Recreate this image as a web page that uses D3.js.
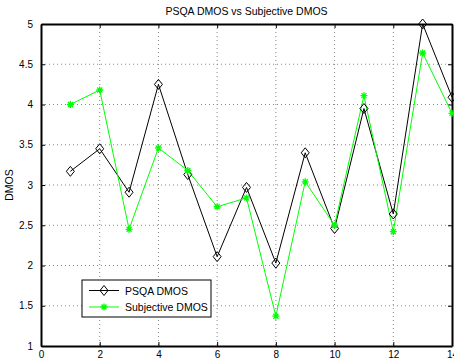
<!DOCTYPE html>
<html>
<head>
<meta charset="utf-8">
<script src="https://cdn.jsdelivr.net/npm/d3@7"></script>
<style>
  body { margin: 0; background: #fff; }
  svg { display: block; font-family: "Liberation Sans", Arial, sans-serif; }
</style>
</head>
<body>
<svg id="chart"></svg>
<script>
// test case index
const samples = [1, 2, 3, 4, 5, 6, 7, 8, 9, 10, 11, 12, 13, 14];
const psqaDmos = [3.17, 3.45, 2.91, 4.25, 3.13, 2.11, 2.97, 2.03, 3.40, 2.46, 3.95, 2.64, 5.0, 4.09];
const subjDmos = [4.0, 4.18, 2.45, 3.46, 3.18, 2.73, 2.84, 1.37, 3.04, 2.50, 4.11, 2.42, 4.64, 3.89];
const xTicks = [0, 2, 4, 6, 8, 10, 12, 14];
const yTicks = [1, 1.5, 2, 2.5, 3, 3.5, 4, 4.5, 5];
const seriesNames = ["PSQA DMOS", "Subjective DMOS"];

const W = 454, H = 362;
const margin = {top: 24, right: 2, bottom: 16, left: 41},
  width = W - margin.left - margin.right,
  height = H - margin.top - margin.bottom;

const svg = d3.select("#chart").attr("width", W).attr("height", H);
const g = svg.append("g").attr("transform", "translate(" + margin.left + "," + margin.top + ")");

const x = d3.scaleLinear().domain([0, 14]).range([0, width]);
const y = d3.scaleLinear().domain([1, 5]).range([height, 0]);

// dotted grid
g.append("g").selectAll("line").data(xTicks.slice(1, -1)).join("line")
  .attr("x1", d => x(d)).attr("x2", d => x(d)).attr("y1", 0).attr("y2", height)
  .attr("stroke", "#888").attr("stroke-width", 1).attr("stroke-dasharray", "1,3");
g.append("g").selectAll("line").data(yTicks.slice(1, -1)).join("line")
  .attr("y1", d => y(d)).attr("y2", d => y(d)).attr("x1", 0).attr("x2", width)
  .attr("stroke", "#888").attr("stroke-width", 1).attr("stroke-dasharray", "1,3");

// axes with inward ticks
g.append("g").attr("transform", "translate(0," + height + ")")
  .call(d3.axisBottom(x).tickValues(xTicks).tickSize(-4).tickPadding(5).tickSizeOuter(0));
g.append("g")
  .call(d3.axisLeft(y).tickValues(yTicks).tickFormat(d3.format("")).tickSize(-4).tickPadding(8).tickSizeOuter(0));
g.append("g").attr("transform", "translate(" + width + ",0)")
  .call(d3.axisRight(y).tickValues(yTicks).tickFormat("").tickSize(-4).tickSizeOuter(0));
g.append("g")
  .call(d3.axisTop(x).tickValues(xTicks).tickFormat("").tickSize(-4).tickSizeOuter(0));
g.selectAll(".domain").attr("stroke", "#000").attr("stroke-width", 2);
g.selectAll(".tick line").attr("stroke", "#000");
g.selectAll(".tick text").attr("font-size", 10).attr("fill", "#000").attr("font-family", "Liberation Sans, Arial, sans-serif");

// lines
const line = d3.line().x((d, i) => x(samples[i])).y(d => y(d));
g.append("path").datum(psqaDmos).attr("d", line).attr("fill", "none").attr("stroke", "#000").attr("stroke-width", 1);
g.append("path").datum(subjDmos).attr("d", line).attr("fill", "none").attr("stroke", "#00ff00").attr("stroke-width", 1);

function diamond(sel) {
  sel.append("path").attr("d", "M0,-5L4,0L0,5L-4,0Z").attr("fill", "none").attr("stroke", "#000").attr("stroke-width", 1);
}
function star(sel) {
  sel.append("path").attr("d", "M-3.5,0H3.5M0,-3.5V3.5M-2.5,-2.5L2.5,2.5M-2.5,2.5L2.5,-2.5")
    .attr("stroke", "#00ff00").attr("stroke-width", 1.3).attr("fill", "none");
}

g.append("g").selectAll("g").data(psqaDmos).join("g")
  .attr("transform", (d, i) => "translate(" + x(samples[i]) + "," + y(d) + ")").call(diamond);
g.append("g").selectAll("g").data(subjDmos).join("g")
  .attr("transform", (d, i) => "translate(" + x(samples[i]) + "," + y(d) + ")").call(star);

// title and label
svg.append("text").attr("x", margin.left + width / 2).attr("y", 15).attr("text-anchor", "middle")
  .attr("font-size", 10.5).text("PSQA DMOS vs Subjective DMOS");
svg.append("text").attr("transform", "translate(13," + (margin.top + height / 2) + ") rotate(-90)")
  .attr("text-anchor", "middle").attr("font-size", 10.5).text("DMOS");

// legend
const leg = svg.append("g").attr("transform", "translate(82,280)");
leg.append("rect").attr("width", 129).attr("height", 37).attr("fill", "#fff").attr("stroke", "#000").attr("stroke-width", 1);
const legColors = ["#000", "#00ff00"];
const legMarks = [diamond, star];
seriesNames.forEach((name, i) => {
  const row = leg.append("g").attr("transform", "translate(0," + (10.5 + i * 16.5) + ")");
  row.append("line").attr("x1", 7).attr("x2", 37).attr("stroke", legColors[i]).attr("stroke-width", 1);
  row.append("g").attr("transform", "translate(22,0)").call(legMarks[i]);
  row.append("text").attr("x", 43).attr("y", 4).attr("font-size", 10.5).text(name);
});
</script>
</body>
</html>
